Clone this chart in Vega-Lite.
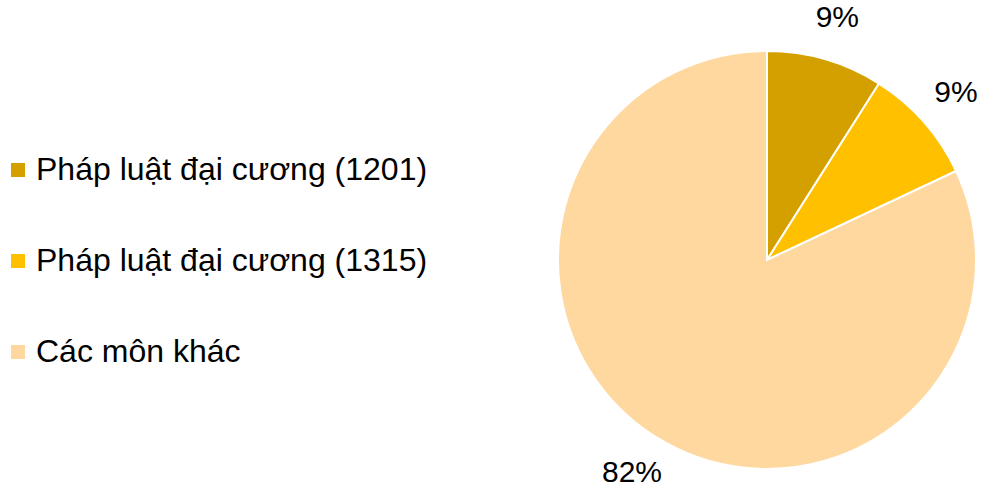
{
  "$schema": "https://vega.github.io/schema/vega-lite/v6.json",
  "width": 418,
  "height": 418,
  "autosize": {"type": "none"},
  "padding": {"left": 558, "top": 51, "right": 15, "bottom": 14},
  "background": "white",
  "config": {"view": {"stroke": null}, "font": "Liberation Sans"},
  "data": {
    "values": [
      {"category": "Pháp luật đại cương (1201)", "value": 9, "label": "9%", "order": 1},
      {"category": "Pháp luật đại cương (1315)", "value": 9, "label": "9%", "order": 2},
      {"category": "Các môn khác", "value": 82, "label": "82%", "order": 3}
    ]
  },
  "encoding": {
    "theta": {"field": "value", "type": "quantitative", "stack": true},
    "order": {"field": "order", "type": "quantitative"}
  },
  "layer": [
    {
      "mark": {"type": "arc", "stroke": "white", "strokeWidth": 2},
      "encoding": {
        "color": {
          "field": "category",
          "type": "nominal",
          "sort": ["Pháp luật đại cương (1201)", "Pháp luật đại cương (1315)", "Các môn khác"],
          "scale": {
            "domain": ["Pháp luật đại cương (1201)", "Pháp luật đại cương (1315)", "Các môn khác"],
            "range": ["#D4A000", "#FFC000", "#FFD8A0"]
          },
          "legend": {
            "title": null,
            "orient": "none",
            "legendX": -556,
            "legendY": 103,
            "padding": 0,
            "symbolType": "square",
            "symbolSize": 196,
            "symbolStrokeWidth": 0,
            "labelFont": "Liberation Sans",
            "labelFontSize": 32,
            "labelColor": "#000000",
            "labelOffset": 2,
            "labelLimit": 600,
            "rowPadding": 59
          }
        }
      }
    },
    {
      "mark": {"type": "text", "radius": 252, "font": "Liberation Sans", "fontSize": 30, "color": "#000000", "baseline": "middle", "align": "center"},
      "encoding": {"text": {"field": "label"}}
    }
  ]
}
